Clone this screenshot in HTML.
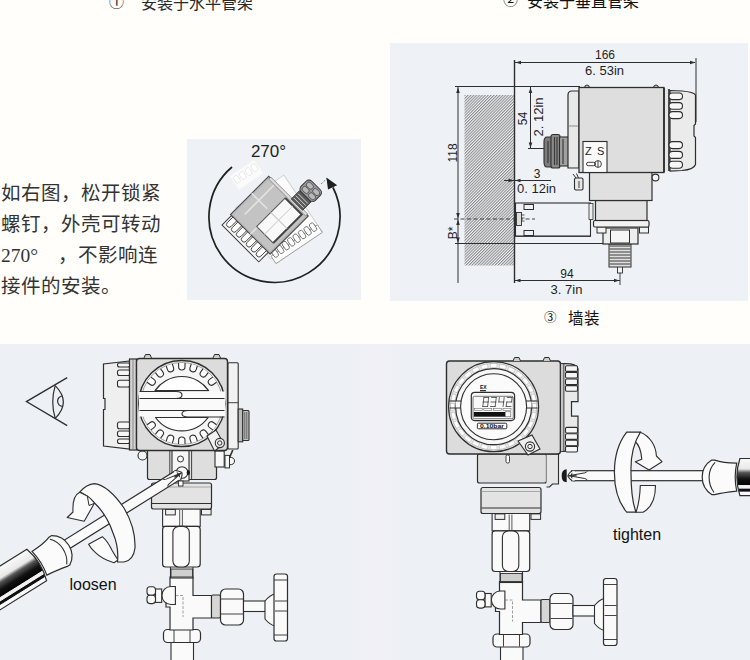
<!DOCTYPE html>
<html lang="zh-CN"><head><meta charset="utf-8">
<style>
html,body{margin:0;padding:0;}
body{width:750px;height:660px;overflow:hidden;background:#fffefb;position:relative;font-family:"Liberation Sans",sans-serif;}
svg{position:absolute;left:0;top:0;}
.t{position:absolute;white-space:nowrap;color:#1a1a1a;}
</style></head><body>
<svg width="750" height="660" viewBox="0 0 750 660">
<defs>
<pattern id="hatch" patternUnits="userSpaceOnUse" width="2.05" height="2.05" patternTransform="rotate(45)">
<rect width="2.05" height="2.05" fill="#eef2f6"/>
<rect x="0" y="0" width="1" height="2.05" fill="#8a8a8a"/>
</pattern>
<linearGradient id="grip" x1="0" y1="0" x2="0" y2="1">
<stop offset="0" stop-color="#fafafa"/><stop offset="0.28" stop-color="#e8e8e8"/><stop offset="0.38" stop-color="#555"/><stop offset="0.55" stop-color="#111"/><stop offset="0.7" stop-color="#050505"/><stop offset="0.72" stop-color="#eee"/><stop offset="0.8" stop-color="#eee"/><stop offset="0.82" stop-color="#111"/><stop offset="0.88" stop-color="#111"/><stop offset="0.9" stop-color="#fafafa"/><stop offset="1" stop-color="#fafafa"/>
</linearGradient>
<linearGradient id="grip2" x1="0" y1="0" x2="0" y2="1">
<stop offset="0" stop-color="#fafafa"/><stop offset="0.3" stop-color="#eee"/><stop offset="0.4" stop-color="#444"/><stop offset="0.7" stop-color="#0a0a0a"/><stop offset="0.72" stop-color="#eee"/><stop offset="0.8" stop-color="#eee"/><stop offset="0.82" stop-color="#111"/><stop offset="0.88" stop-color="#111"/><stop offset="0.9" stop-color="#fafafa"/><stop offset="1" stop-color="#fafafa"/>
</linearGradient>

</defs>
<rect x="390" y="43" width="358" height="258" fill="#eef2f6"/>
<rect x="464.5" y="95" width="50" height="170.5" fill="url(#hatch)"/>
<line x1="514.5" y1="60" x2="514.5" y2="283" stroke="#2e2e2e" stroke-width="1.4"/>
<line x1="515" y1="62.5" x2="695" y2="62.5" stroke="#2e2e2e" stroke-width="1.1"/>
<path d="M515.5 62.5 l5.5 -1.8 v3.6z M695.5 62.5 l-5.5 -1.8 v3.6z" fill="#2e2e2e"/>
<line x1="696" y1="58" x2="696" y2="122" stroke="#2e2e2e" stroke-width="1"/>
<line x1="455" y1="86.5" x2="580" y2="86.5" stroke="#2e2e2e" stroke-width="1.2"/>
<line x1="458" y1="87" x2="458" y2="283" stroke="#2e2e2e" stroke-width="1"/>
<path d="M458 87.5 l-1.8 5.5 h3.6z M458 218.5 l-1.8 -5.5 h3.6z M458 219.5 l-1.8 5.5 h3.6z M458 243 l-1.8 -5.5 h3.6z" fill="#2e2e2e"/>
<line x1="530.5" y1="87" x2="530.5" y2="148.5" stroke="#2e2e2e" stroke-width="1"/>
<line x1="528" y1="148.5" x2="546" y2="148.5" stroke="#2e2e2e" stroke-width="1"/>
<path d="M530.5 87.5 l-1.8 5.5 h3.6z M530.5 148 l-1.8 -5.5 h3.6z" fill="#2e2e2e"/>
<line x1="504" y1="180.5" x2="551" y2="180.5" stroke="#2e2e2e" stroke-width="1.1"/>
<path d="M514 180.5 l-5.5 -1.8 v3.6z M515 180.5 l5.5 -1.8 v3.6z" fill="#2e2e2e"/>
<line x1="454" y1="219" x2="535" y2="219" stroke="#2e2e2e" stroke-width="0.9" stroke-dasharray="4 2.5"/>
<line x1="455" y1="243.5" x2="606" y2="243.5" stroke="#2e2e2e" stroke-width="1.1"/>
<rect x="515.5" y="203" width="75" height="33" fill="none" stroke="#2e2e2e" stroke-width="1.1"/>
<line x1="515" y1="236.5" x2="591" y2="236.5" stroke="#2e2e2e" stroke-width="0.8"/>
<rect x="524" y="204.5" width="9.5" height="5" fill="none" stroke="#2e2e2e" stroke-width="1"/>
<rect x="524" y="230.5" width="9.5" height="5" fill="none" stroke="#2e2e2e" stroke-width="1"/>
<rect x="516.5" y="212.5" width="5" height="13" fill="#ddd" stroke="#2e2e2e" stroke-width="0.9"/>
<path d="M521.5 215 h3 M521.5 218 h3 M521.5 221 h3" stroke="#2e2e2e" stroke-width="0.8"/>
<rect x="589" y="203.5" width="4" height="16" fill="#eee" stroke="#2e2e2e" stroke-width="0.8"/>
<line x1="514.5" y1="280.5" x2="620" y2="280.5" stroke="#2e2e2e" stroke-width="1.1"/>
<path d="M515 280.5 l5.5 -1.8 v3.6z M619.5 280.5 l-5.5 -1.8 v3.6z" fill="#2e2e2e"/>
<line x1="620" y1="271" x2="620" y2="285" stroke="#2e2e2e" stroke-width="0.9"/>
<rect x="617.5" y="266" width="5" height="7" fill="#f4f4f4" stroke="#2e2e2e" stroke-width="0.9"/>
<rect x="609" y="244" width="22" height="23" fill="#e0e0e0" stroke="#2e2e2e" stroke-width="1"/>
<line x1="609.5" y1="246" x2="630.5" y2="246" stroke="#4a4a4a" stroke-width="1.1"/>
<line x1="609.5" y1="249" x2="630.5" y2="249" stroke="#4a4a4a" stroke-width="1.1"/>
<line x1="609.5" y1="252" x2="630.5" y2="252" stroke="#4a4a4a" stroke-width="1.1"/>
<line x1="609.5" y1="255" x2="630.5" y2="255" stroke="#4a4a4a" stroke-width="1.1"/>
<line x1="609.5" y1="258" x2="630.5" y2="258" stroke="#4a4a4a" stroke-width="1.1"/>
<line x1="609.5" y1="261" x2="630.5" y2="261" stroke="#4a4a4a" stroke-width="1.1"/>
<line x1="609.5" y1="264" x2="630.5" y2="264" stroke="#4a4a4a" stroke-width="1.1"/>
<rect x="603" y="228" width="35" height="16" fill="#eee" stroke="#2e2e2e" stroke-width="1.2"/>
<rect x="610.5" y="230" width="19" height="13" fill="#f6f6f6" stroke="#2e2e2e" stroke-width="1"/>
<rect x="597" y="227" width="9" height="6" fill="#f2f2f2" stroke="#2e2e2e" stroke-width="1"/>
<rect x="639.5" y="227" width="9" height="6" fill="#f2f2f2" stroke="#2e2e2e" stroke-width="1"/>
<rect x="593.5" y="220.5" width="55.5" height="6.5" rx="1.5" fill="#f2f2f2" stroke="#2e2e2e" stroke-width="1.2"/>
<rect x="595.5" y="200.5" width="51.5" height="20" fill="#e2e2e2" stroke="#2e2e2e" stroke-width="1.2"/>
<rect x="589.5" y="172" width="62.5" height="28.5" fill="#e0e0e0" stroke="#2e2e2e" stroke-width="1.2"/>
<circle cx="655.5" cy="177.5" r="3.4" fill="#f4f4f4" stroke="#2e2e2e" stroke-width="1.1"/>
<rect x="574.5" y="178" width="8.5" height="12" rx="1.5" fill="#e8e8e8" stroke="#2e2e2e" stroke-width="1.1"/>
<path d="M576 178 l-3 -4 M578.5 178 l-2 -4.5" stroke="#2e2e2e" stroke-width="1"/>
<line x1="579" y1="181" x2="579" y2="188" stroke="#2e2e2e" stroke-width="0.9"/>
<path d="M547 137 q-3 0 -3 5 v20 q0 5 3 5 h5 v-30z" fill="#7d7d7d" stroke="#2e2e2e" stroke-width="1.1"/>
<rect x="551" y="134.5" width="9" height="33.5" rx="2" fill="#8a8a8a" stroke="#2e2e2e" stroke-width="1.1"/>
<rect x="559.5" y="137" width="9" height="29" fill="#a0a0a0" stroke="#2e2e2e" stroke-width="1.1"/>
<path d="M548 141 v22 M554.5 137 v28 M557 137 v28 M563 139 v25" stroke="#3c3c3c" stroke-width="1.2"/>
<path d="M579 91 h-7 q-4 0 -4 4 v73 h11z" fill="#e8e8e8" stroke="#2e2e2e" stroke-width="1.2"/>
<line x1="568.5" y1="126" x2="579" y2="126" stroke="#777" stroke-width="0.8"/>
<path d="M584.5 88 q0 -3 2.5 -3 q2.5 0 2.5 3z M653.5 88 q0 -3 2.5 -3 q2.5 0 2.5 3z" fill="#ccc" stroke="#2e2e2e" stroke-width="1"/>
<rect x="579" y="87.5" width="85" height="85" fill="#dedede" stroke="#2e2e2e" stroke-width="1.3"/>
<rect x="583" y="141.5" width="24" height="31" fill="#fafafa" stroke="#2e2e2e" stroke-width="1.1"/>
<text x="585" y="155.3" font-size="11" font-family="Liberation Sans" fill="#1e1e1e">Z</text>
<text x="597" y="155.3" font-size="11" font-family="Liberation Sans" fill="#1e1e1e">S</text>
<rect x="586.5" y="162.3" width="9" height="3.4" rx="1.7" fill="none" stroke="#2e2e2e" stroke-width="0.9"/>
<circle cx="598" cy="164" r="3.4" fill="none" stroke="#2e2e2e" stroke-width="0.9"/>
<line x1="598" y1="160.8" x2="598" y2="167.2" stroke="#2e2e2e" stroke-width="0.9"/>
<path d="M664 88 v84 M669 89 v82" stroke="#2a2a2a" stroke-width="1.6"/>
<rect x="665" y="88.5" width="3" height="83" fill="#e6e6e6"/>
<path d="M670 90.5 L682 91 q12 1 13.5 4 v29 l-1.5 1.5 v10.5 l1.5 1.5 v27 q-1.5 5 -13.5 6 L670 171z" fill="#ebebeb" stroke="#2e2e2e" stroke-width="1.2"/>
<rect x="669" y="93" width="13.5" height="6.6" rx="3.3" fill="#f8f8f8" stroke="#2e2e2e" stroke-width="1.1"/>
<rect x="669" y="102.6" width="13.5" height="6.6" rx="3.3" fill="#f8f8f8" stroke="#2e2e2e" stroke-width="1.1"/>
<rect x="669" y="111.6" width="13.5" height="7" rx="3.5" fill="#f8f8f8" stroke="#2e2e2e" stroke-width="1.1"/>
<rect x="669" y="141.6" width="13.5" height="7" rx="3.5" fill="#f8f8f8" stroke="#2e2e2e" stroke-width="1.1"/>
<rect x="669" y="151.4" width="13.5" height="7" rx="3.5" fill="#f8f8f8" stroke="#2e2e2e" stroke-width="1.1"/>
<rect x="669" y="161.2" width="13.5" height="7" rx="3.5" fill="#f8f8f8" stroke="#2e2e2e" stroke-width="1.1"/>
<text x="605" y="58.8" font-size="12" text-anchor="middle" font-family="Liberation Sans" fill="#1e1e1e">166</text>
<text x="604.5" y="74.8" font-size="13" text-anchor="middle" font-family="Liberation Sans" fill="#1e1e1e">6. 53in</text>
<text x="537" y="177.6" font-size="12" text-anchor="middle" font-family="Liberation Sans" fill="#1e1e1e">3</text>
<text x="536.5" y="193.2" font-size="13" text-anchor="middle" font-family="Liberation Sans" fill="#1e1e1e">0. 12in</text>
<text x="567" y="277.6" font-size="12" text-anchor="middle" font-family="Liberation Sans" fill="#1e1e1e">94</text>
<text x="566.5" y="294.4" font-size="13" text-anchor="middle" font-family="Liberation Sans" fill="#1e1e1e">3. 7in</text>
<text transform="translate(527.3 118.5) rotate(-90)" font-size="12" text-anchor="middle" font-family="Liberation Sans" fill="#1e1e1e">54</text>
<text transform="translate(542.6 117) rotate(-90)" font-size="13" text-anchor="middle" font-family="Liberation Sans" fill="#1e1e1e">2. 12in</text>
<text transform="translate(456.8 153) rotate(-90)" font-size="12" text-anchor="middle" font-family="Liberation Sans" fill="#1e1e1e">118</text>
<text transform="translate(456.8 233) rotate(-90)" font-size="12" text-anchor="middle" font-family="Liberation Sans" fill="#1e1e1e">B*</text>
<rect x="187" y="139" width="174" height="161" fill="#eef2f6"/>
<text x="268.5" y="157.3" font-size="17" text-anchor="middle" font-family="Liberation Sans" fill="#1e1e1e">270°</text>
<g transform="translate(276 260) rotate(-34)">
<rect x="-4" y="-66" width="58" height="62" fill="#fcfcfc" stroke="#d0d0d0" stroke-width="1"/>
<rect x="-2" y="-6" width="56" height="9" fill="#fff" stroke="#9a9a9a" stroke-width="0.9"/>
<rect x="0.5" y="-11" width="4.8" height="9" rx="2.2" fill="#fff" stroke="#707070" stroke-width="0.9"/>
<rect x="7.1" y="-11" width="4.8" height="9" rx="2.2" fill="#fff" stroke="#707070" stroke-width="0.9"/>
<rect x="13.7" y="-11" width="4.8" height="9" rx="2.2" fill="#fff" stroke="#707070" stroke-width="0.9"/>
<rect x="20.299999999999997" y="-11" width="4.8" height="9" rx="2.2" fill="#fff" stroke="#707070" stroke-width="0.9"/>
<rect x="26.9" y="-11" width="4.8" height="9" rx="2.2" fill="#fff" stroke="#707070" stroke-width="0.9"/>
<rect x="33.5" y="-11" width="4.8" height="9" rx="2.2" fill="#fff" stroke="#707070" stroke-width="0.9"/>
<rect x="40.099999999999994" y="-11" width="4.8" height="9" rx="2.2" fill="#fff" stroke="#707070" stroke-width="0.9"/>
<rect x="46.699999999999996" y="-11" width="4.8" height="9" rx="2.2" fill="#fff" stroke="#707070" stroke-width="0.9"/>
</g>
<g transform="translate(236 186) rotate(-34)">
<rect x="0" y="-12" width="30" height="17" fill="#fbfbfb" stroke="#f2f2f2" stroke-width="1"/>
<rect x="2" y="-9" width="5" height="8" rx="2.3" fill="#fff" stroke="#e6e6e6" stroke-width="0.9"/>
<rect x="9" y="-9" width="5" height="8" rx="2.3" fill="#fff" stroke="#e6e6e6" stroke-width="0.9"/>
<rect x="16" y="-9" width="5" height="8" rx="2.3" fill="#fff" stroke="#e6e6e6" stroke-width="0.9"/>
<rect x="23" y="-9" width="5" height="8" rx="2.3" fill="#fff" stroke="#e6e6e6" stroke-width="0.9"/>
</g>
<g transform="translate(230.5 214.5) rotate(-45)">
<rect x="-13.5" y="1.5" width="13.5" height="52" fill="#f7f7f7" stroke="#3a3a3a" stroke-width="1"/>
<path d="M0 3.5 h-8 a2.7 2.7 0 0 0 0 5.4 h8" fill="#fff" stroke="#3a3a3a" stroke-width="0.9"/>
<path d="M0 10.5 h-8 a2.7 2.7 0 0 0 0 5.4 h8" fill="#fff" stroke="#3a3a3a" stroke-width="0.9"/>
<path d="M0 17.5 h-8 a2.7 2.7 0 0 0 0 5.4 h8" fill="#fff" stroke="#3a3a3a" stroke-width="0.9"/>
<path d="M0 24.5 h-8 a2.7 2.7 0 0 0 0 5.4 h8" fill="#fff" stroke="#3a3a3a" stroke-width="0.9"/>
<path d="M0 31.5 h-8 a2.7 2.7 0 0 0 0 5.4 h8" fill="#fff" stroke="#3a3a3a" stroke-width="0.9"/>
<path d="M0 38.5 h-8 a2.7 2.7 0 0 0 0 5.4 h8" fill="#fff" stroke="#3a3a3a" stroke-width="0.9"/>
<path d="M0 45.5 h-8 a2.7 2.7 0 0 0 0 5.4 h8" fill="#fff" stroke="#3a3a3a" stroke-width="0.9"/>
<rect x="0" y="0" width="54" height="56" fill="#b8b8b8" stroke="#4a4a4a" stroke-width="1.1"/>
<rect x="2" y="2" width="50" height="52" fill="#c3c3c3"/>
<path d="M30 0 V22 M0 28 H10 M10 10 H52" stroke="#e4e4e4" stroke-width="1.5" fill="none"/>
<rect x="10" y="27" width="40" height="23" fill="#f9f9f9" stroke="#555" stroke-width="1"/>
<path d="M10 50.5 H50.5 V27" fill="none" stroke="#444" stroke-width="1.8"/>
<line x1="30" y1="27" x2="30" y2="50" stroke="#c8c8c8" stroke-width="1.2"/>
<line x1="10" y1="38" x2="50" y2="38" stroke="#d0d0d0" stroke-width="1"/>
<rect x="52" y="2" width="3" height="52" fill="#ddd" stroke="#666" stroke-width="0.6"/>
<rect x="54" y="32" width="12" height="16" fill="#5a5a5a" stroke="#333" stroke-width="0.9"/>
<path d="M56.5 33 v14 M59.5 33 v14 M62.5 33 v14" stroke="#d8d8d8" stroke-width="0.9"/>
<rect x="66" y="30" width="15" height="20" rx="4" fill="#9c9c9c" stroke="#333" stroke-width="1"/>
<rect x="68" y="32" width="5" height="7.5" rx="2" fill="#b8b8b8" stroke="#444" stroke-width="0.8"/>
<rect x="74" y="32" width="5" height="7.5" rx="2" fill="#b8b8b8" stroke="#444" stroke-width="0.8"/>
<rect x="68" y="41" width="5" height="7.5" rx="2" fill="#b8b8b8" stroke="#444" stroke-width="0.8"/>
<rect x="74" y="41" width="5" height="7.5" rx="2" fill="#b8b8b8" stroke="#444" stroke-width="0.8"/>
</g>
<line x1="321" y1="184" x2="327" y2="178.5" stroke="#666" stroke-width="0.8" stroke-dasharray="2 1.5"/>
<path d="M232 167 A 65.5 65.5 0 1 0 333 187.5" fill="none" stroke="#1f1f1f" stroke-width="1.7"/>
<path d="M326.4 177.6 L328 189.5 L337.2 185.3 Z" fill="#1f1f1f"/>
<rect x="0" y="344" width="750" height="316" fill="#edf1f5"/>
<rect x="360" y="344" width="32" height="316" fill="#f1f0f6"/>
<g transform="translate(0 0)">
<rect x="171" y="641" width="22.5" height="25" fill="#fafafa" stroke="#2e2e2e" stroke-width="1.1"/>
<rect x="163.5" y="629.5" width="37" height="13" rx="4" fill="#fafafa" stroke="#2e2e2e" stroke-width="1.2"/>
<path d="M174 630 v12 M190 630 v12" stroke="#2e2e2e" stroke-width="0.9"/>
<path d="M170 577 h23 v18.5 h18.5 v22.5 h-18.5 v12 h-23 v-23 h-4 v-14 h4z" fill="#fafafa" stroke="#2e2e2e" stroke-width="1.2"/>
<path d="M171 595.5 h12 M183 597 v20" stroke="#888" stroke-width="0.8" stroke-dasharray="3 1.5"/>
<path d="M175.4 586.5 h-4.5 a9 9 0 0 0 0 18 h4.5z" fill="#fafafa" stroke="#2e2e2e" stroke-width="1.1"/>
<rect x="155.5" y="589" width="6.2" height="13.4" fill="#fafafa" stroke="#2e2e2e" stroke-width="1.1"/>
<rect x="147" y="586.8" width="8.5" height="8.4" rx="3" fill="#fafafa" stroke="#2e2e2e" stroke-width="1.1"/>
<rect x="147" y="595.2" width="8.5" height="8.4" rx="3" fill="#fafafa" stroke="#2e2e2e" stroke-width="1.1"/>
<rect x="170.5" y="565" width="22.5" height="13" fill="#fafafa" stroke="#2e2e2e" stroke-width="1.1"/>
<rect x="171" y="569" width="21.5" height="8" fill="#cfcfcf" stroke="#2e2e2e" stroke-width="0.9"/>
<rect x="211.5" y="595" width="9" height="23" rx="1.5" fill="#d6d6d6" stroke="#2e2e2e" stroke-width="1.1"/>
<rect x="220.5" y="589" width="23" height="36" rx="5" fill="#fafafa" stroke="#2e2e2e" stroke-width="1.2"/>
<path d="M221 599 h22 M221 614 h22" stroke="#2e2e2e" stroke-width="0.9"/>
<rect x="243.5" y="601" width="22" height="10.5" fill="#fafafa" stroke="#2e2e2e" stroke-width="1.1"/>
<path d="M265 601 q5 -6 10 -7 v32 q-5 -1 -10 -7z" fill="#fafafa" stroke="#2e2e2e" stroke-width="1.1"/>
<rect x="274" y="574" width="13.5" height="67" rx="2.5" fill="#fafafa" stroke="#2e2e2e" stroke-width="1.2"/>
<path d="M274 580 h13.5 M274 635 h13.5 M275 601 h12 M275 611 h12" stroke="#2e2e2e" stroke-width="0.9"/>
</g>
<g transform="translate(0 0)">
<rect x="162.6" y="508.8" width="37.6" height="17.6" fill="#fafafa" stroke="#2e2e2e" stroke-width="1.1"/>
<path d="M179.7 510 v16 M182.4 510 v16" stroke="#2e2e2e" stroke-width="0.8"/>
<rect x="165.6" y="509.4" width="9.7" height="5.5" fill="#f0f0f0" stroke="#2e2e2e" stroke-width="1"/>
<rect x="201.5" y="509.4" width="9.6" height="5.5" fill="#f0f0f0" stroke="#2e2e2e" stroke-width="1"/>
<rect x="162.6" y="526.4" width="37.6" height="40.6" rx="3" fill="#fafafa" stroke="#2e2e2e" stroke-width="1.2"/>
<rect x="172.9" y="526.4" width="16.4" height="40.6" rx="6" fill="#fafafa" stroke="#2e2e2e" stroke-width="1.1"/>
<rect x="151.5" y="483" width="60" height="26" rx="2" fill="#e3e3e3" stroke="#2e2e2e" stroke-width="1.2"/>
<line x1="152" y1="503.5" x2="211" y2="503.5" stroke="#2e2e2e" stroke-width="1"/>
<line x1="152" y1="487" x2="211" y2="487" stroke="#999" stroke-width="0.8"/>
</g>
<rect x="147.5" y="448" width="69" height="31.5" rx="2" fill="#dedede" stroke="#2e2e2e" stroke-width="1.2"/>
<path d="M169.8 449 V479 M191.6 449 V479" stroke="#2e2e2e" stroke-width="0.9"/>
<rect x="172" y="450" width="17" height="31" fill="#f6f6f6" stroke="#2e2e2e" stroke-width="1.1"/>
<circle cx="180.5" cy="459" r="3" fill="#fff" stroke="#2e2e2e" stroke-width="1"/>
<rect x="178.5" y="481" width="4.5" height="5" fill="#fff" stroke="#2e2e2e" stroke-width="0.9"/>
<circle cx="142.5" cy="455.5" r="4.5" fill="#f4f4f4" stroke="#2e2e2e" stroke-width="1.1"/>
<rect x="215" y="451" width="9.2" height="16" fill="#f8f8f8" stroke="#2e2e2e" stroke-width="1.1"/>
<path d="M229.5 457.3 q5 0 5 3.7 q0 3.8 -5 3.8z" fill="#f8f8f8" stroke="#2e2e2e" stroke-width="1"/>
<rect x="225" y="455.4" width="4.5" height="12.5" fill="#f8f8f8" stroke="#2e2e2e" stroke-width="1"/>
<path d="M229.8 457 l3 -7" fill="none" stroke="#2e2e2e" stroke-width="1.6"/>
<path d="M129.5 361 L103.5 364 V398.5 h1.5 v11 h-1.5 V446 L129.5 449z" fill="#efefef" stroke="#2e2e2e" stroke-width="1.2"/>
<rect x="117.5" y="363" width="12.5" height="4" rx="2" fill="#f6f6f6" stroke="#2e2e2e" stroke-width="1.1"/>
<rect x="117.5" y="370" width="12.5" height="5.5" rx="2" fill="#f6f6f6" stroke="#2e2e2e" stroke-width="1.1"/>
<rect x="117.5" y="380.3" width="12.5" height="6.7" rx="2" fill="#f6f6f6" stroke="#2e2e2e" stroke-width="1.1"/>
<rect x="117.5" y="422" width="12.5" height="6.8" rx="2" fill="#f6f6f6" stroke="#2e2e2e" stroke-width="1.1"/>
<rect x="117.5" y="431" width="12.5" height="5.5" rx="2" fill="#f6f6f6" stroke="#2e2e2e" stroke-width="1.1"/>
<rect x="117.5" y="439" width="12.5" height="4.5" rx="2" fill="#f6f6f6" stroke="#2e2e2e" stroke-width="1.1"/>
<rect x="129.5" y="359" width="7" height="91" fill="#d3d3d3" stroke="#2e2e2e" stroke-width="1.2"/>
<line x1="133" y1="360" x2="133" y2="449" stroke="#777" stroke-width="0.8"/>
<rect x="136.5" y="358.5" width="91" height="92" rx="3" fill="#dcdcdc" stroke="#2e2e2e" stroke-width="1.4"/>
<path d="M144 358 l1.5 -3.5 h4.5 l1.5 3.5 M213 358 l1.5 -3.5 h4.5 l1.5 3.5" fill="#ccc" stroke="#2e2e2e" stroke-width="1"/>
<rect x="228" y="362.7" width="10.2" height="86.3" rx="1" fill="#f2f2f2" stroke="#2e2e2e" stroke-width="1.1"/>
<line x1="228" y1="402.7" x2="238.2" y2="402.7" stroke="#2e2e2e" stroke-width="0.9"/>
<rect x="238.2" y="409" width="4.5" height="32.8" fill="#bdbdbd" stroke="#2e2e2e" stroke-width="1.1"/>
<rect x="242.7" y="410.5" width="6.3" height="30" rx="1" fill="#c4c4c4" stroke="#2e2e2e" stroke-width="1.1"/>
<path d="M244.8 412 v27 M246.8 412 v27" stroke="#555" stroke-width="0.9"/>
<circle cx="181.8" cy="403.5" r="43" fill="#f6f6f6" stroke="#2e2e2e" stroke-width="1.4"/>
<circle cx="181.8" cy="403.5" r="41" fill="none" stroke="#888" stroke-width="0.8"/>
<path d="M-3.2 0 v3.8 a3.2 3.2 0 0 0 6.4 0 v-3.8" transform="translate(181.8 363.0) rotate(0.0)" fill="#fff" stroke="#2e2e2e" stroke-width="1.1"/>
<path d="M-3.2 0 v3.8 a3.2 3.2 0 0 0 6.4 0 v-3.8" transform="translate(194.3 365.0) rotate(18.0)" fill="#fff" stroke="#2e2e2e" stroke-width="1.1"/>
<path d="M-3.2 0 v3.8 a3.2 3.2 0 0 0 6.4 0 v-3.8" transform="translate(205.6 370.7) rotate(36.0)" fill="#fff" stroke="#2e2e2e" stroke-width="1.1"/>
<path d="M-3.2 0 v3.8 a3.2 3.2 0 0 0 6.4 0 v-3.8" transform="translate(214.6 379.7) rotate(54.0)" fill="#fff" stroke="#2e2e2e" stroke-width="1.1"/>
<path d="M-3.2 0 v3.8 a3.2 3.2 0 0 0 6.4 0 v-3.8" transform="translate(214.6 427.3) rotate(126.0)" fill="#fff" stroke="#2e2e2e" stroke-width="1.1"/>
<path d="M-3.2 0 v3.8 a3.2 3.2 0 0 0 6.4 0 v-3.8" transform="translate(205.6 436.3) rotate(144.0)" fill="#fff" stroke="#2e2e2e" stroke-width="1.1"/>
<path d="M-3.2 0 v3.8 a3.2 3.2 0 0 0 6.4 0 v-3.8" transform="translate(194.3 442.0) rotate(162.0)" fill="#fff" stroke="#2e2e2e" stroke-width="1.1"/>
<path d="M-3.2 0 v3.8 a3.2 3.2 0 0 0 6.4 0 v-3.8" transform="translate(181.8 444.0) rotate(180.0)" fill="#fff" stroke="#2e2e2e" stroke-width="1.1"/>
<path d="M-3.2 0 v3.8 a3.2 3.2 0 0 0 6.4 0 v-3.8" transform="translate(169.3 442.0) rotate(198.0)" fill="#fff" stroke="#2e2e2e" stroke-width="1.1"/>
<path d="M-3.2 0 v3.8 a3.2 3.2 0 0 0 6.4 0 v-3.8" transform="translate(158.0 436.3) rotate(216.0)" fill="#fff" stroke="#2e2e2e" stroke-width="1.1"/>
<path d="M-3.2 0 v3.8 a3.2 3.2 0 0 0 6.4 0 v-3.8" transform="translate(149.0 427.3) rotate(234.0)" fill="#fff" stroke="#2e2e2e" stroke-width="1.1"/>
<path d="M-3.2 0 v3.8 a3.2 3.2 0 0 0 6.4 0 v-3.8" transform="translate(149.0 379.7) rotate(306.0)" fill="#fff" stroke="#2e2e2e" stroke-width="1.1"/>
<path d="M-3.2 0 v3.8 a3.2 3.2 0 0 0 6.4 0 v-3.8" transform="translate(158.0 370.7) rotate(324.0)" fill="#fff" stroke="#2e2e2e" stroke-width="1.1"/>
<path d="M-3.2 0 v3.8 a3.2 3.2 0 0 0 6.4 0 v-3.8" transform="translate(169.3 365.0) rotate(342.0)" fill="#fff" stroke="#2e2e2e" stroke-width="1.1"/>
<path d="M155.0 390.6 A 32.5 32.5 0 0 1 208.6 390.6 Z" fill="#fff" stroke="#2e2e2e" stroke-width="1.2" stroke-linejoin="round"/>
<path d="M155.5 417.5 A 32.5 32.5 0 0 0 208.1 417.5 Z" fill="#fff" stroke="#2e2e2e" stroke-width="1.2" stroke-linejoin="round"/>
<rect x="139" y="391.5" width="86" height="25" fill="#fafafa"/>
<path d="M139.5 398.5 H224.5 M139.5 410.5 H224.5" stroke="#2e2e2e" stroke-width="1.2"/>
<path d="M139.5 391.5 H176 q6 0 6 3.5 q0 3.5 -6 3.5 M224.5 417 H188 q-6 0 -6 -3.2 q0 -3.3 6 -3.3" fill="none" stroke="#2e2e2e" stroke-width="1.1"/>
<path d="M207 436 L214.5 451 L224 444 L216 430z" fill="#f2f2f2" stroke="#2e2e2e" stroke-width="1.1"/>
<circle cx="219.8" cy="443" r="4.6" fill="#f2f2f2" stroke="#2e2e2e" stroke-width="1.1"/>
<circle cx="219.8" cy="443" r="2.2" fill="none" stroke="#2e2e2e" stroke-width="1"/>
<path d="M67.2 377.6 L26.4 401.6 L67.2 425.6" fill="none" stroke="#2e2e2e" stroke-width="1.3" stroke-linejoin="miter"/>
<path d="M55.2 385.6 Q50.3 402 55.2 418.4" fill="none" stroke="#2e2e2e" stroke-width="1.2"/>
<path d="M55.2 385.6 Q71.5 402 55.2 418.4" fill="none" stroke="#2e2e2e" stroke-width="1.2"/>
<path d="M62.6 396 A5 5.2 0 0 0 62.6 406.4" fill="none" stroke="#2e2e2e" stroke-width="1.2"/>
<circle cx="182" cy="472.5" r="5.8" fill="#fafafa" stroke="#2e2e2e" stroke-width="1.1"/>
<ellipse cx="188.3" cy="472.5" rx="1.6" ry="2.6" fill="#111"/>
<g transform="matrix(-0.848 0.530 0.530 0.848 182 472.5)">
<rect x="4" y="-5" width="134" height="10" fill="#fbfbfb" stroke="#2e2e2e" stroke-width="1.2"/>
<path d="M0 0 Q2.5 -4.6 5.5 -5 H8 M0 0 Q2.5 4.6 5.5 5 H8" fill="#fbfbfb" stroke="#2e2e2e" stroke-width="1.1"/>
<path d="M4.5 -4.4 H7 M4.5 4.4 H7" stroke="#fbfbfb" stroke-width="1"/>
<path d="M1 0 L17 -2.8 Q19 -3.2 19.5 -4.4 M1 0 L17 2.8 Q19 3.2 19.5 4.4 M0.5 0 H9" fill="none" stroke="#2e2e2e" stroke-width="1"/>
<path d="M144 -15.6 q-9.5 6 -9.5 17 q0 11.5 9.5 17.5 h3 q8 -2 22 -3.5 q-3 -14 0 -28 q-14 0 -22 -3z" fill="#fbfbfb" stroke="#2e2e2e" stroke-width="1.2"/>
<path d="M147.4 -13.4 q-6 6 -6 15 q0 9 5 15.2" fill="none" stroke="#2e2e2e" stroke-width="1.1"/>
<path d="M172.2 -17.2 H260 V20 H172.2 q-6 -18.6 0 -37.2z" fill="url(#grip)" stroke="#2e2e2e" stroke-width="1.2"/>
<line x1="176" y1="11.3" x2="260" y2="11.3" stroke="#fff" stroke-width="0.9" stroke-dasharray="1.4 1.4"/>
</g>
<path d="M88.6 544.2 L102.3 536.7 C105 539 109 544 112 550.3 C114 554 116 557 118 560 L114 562.7 C108 561 100 557 95.5 552.6 C92 549.5 90 547 88.6 544.2 Z" fill="#fbfbfb" stroke="#2e2e2e" stroke-width="1.1" stroke-linejoin="round"/>
<path d="M79.7 492.1 C84 487 89 484 94.6 483.6 C105 485 115 495 124 508 C131 520 135.5 535 135 548 C134 556 130 561 124 562 L117.5 562 C118.5 552 116 540 113 533 C109 521 103 511 94.5 503 C90 498.5 85 494 79.7 492.1 Z" fill="#fbfbfb" stroke="#2e2e2e" stroke-width="1.2" stroke-linejoin="round"/>
<path d="M79.7 492.3 C74 495 72.5 503 73 512 L67.2 517.5 L84.2 521.3 L94.5 503 C92 500 89.5 497.5 87.3 495.9 Z" fill="#fbfbfb" stroke="#2e2e2e" stroke-width="1.1" stroke-linejoin="round"/>
<path d="M87.3 495.9 L89 505.5 L94 503.5" fill="none" stroke="#2e2e2e" stroke-width="1"/>
<text x="69.5" y="590" font-size="16" font-family="Liberation Sans" fill="#111">loosen</text>
<g transform="translate(329.5 4.5)">
<rect x="171" y="641" width="22.5" height="25" fill="#fafafa" stroke="#2e2e2e" stroke-width="1.1"/>
<rect x="163.5" y="629.5" width="37" height="13" rx="4" fill="#fafafa" stroke="#2e2e2e" stroke-width="1.2"/>
<path d="M174 630 v12 M190 630 v12" stroke="#2e2e2e" stroke-width="0.9"/>
<path d="M170 577 h23 v18.5 h18.5 v22.5 h-18.5 v12 h-23 v-23 h-4 v-14 h4z" fill="#fafafa" stroke="#2e2e2e" stroke-width="1.2"/>
<path d="M171 595.5 h12 M183 597 v20" stroke="#888" stroke-width="0.8" stroke-dasharray="3 1.5"/>
<path d="M175.4 586.5 h-4.5 a9 9 0 0 0 0 18 h4.5z" fill="#fafafa" stroke="#2e2e2e" stroke-width="1.1"/>
<rect x="155.5" y="589" width="6.2" height="13.4" fill="#fafafa" stroke="#2e2e2e" stroke-width="1.1"/>
<rect x="147" y="586.8" width="8.5" height="8.4" rx="3" fill="#fafafa" stroke="#2e2e2e" stroke-width="1.1"/>
<rect x="147" y="595.2" width="8.5" height="8.4" rx="3" fill="#fafafa" stroke="#2e2e2e" stroke-width="1.1"/>
<rect x="170.5" y="565" width="22.5" height="13" fill="#fafafa" stroke="#2e2e2e" stroke-width="1.1"/>
<rect x="171" y="569" width="21.5" height="8" fill="#cfcfcf" stroke="#2e2e2e" stroke-width="0.9"/>
<rect x="211.5" y="595" width="9" height="23" rx="1.5" fill="#d6d6d6" stroke="#2e2e2e" stroke-width="1.1"/>
<rect x="220.5" y="589" width="23" height="36" rx="5" fill="#fafafa" stroke="#2e2e2e" stroke-width="1.2"/>
<path d="M221 599 h22 M221 614 h22" stroke="#2e2e2e" stroke-width="0.9"/>
<rect x="243.5" y="601" width="22" height="10.5" fill="#fafafa" stroke="#2e2e2e" stroke-width="1.1"/>
<path d="M265 601 q5 -6 10 -7 v32 q-5 -1 -10 -7z" fill="#fafafa" stroke="#2e2e2e" stroke-width="1.1"/>
<rect x="274" y="574" width="13.5" height="67" rx="2.5" fill="#fafafa" stroke="#2e2e2e" stroke-width="1.2"/>
<path d="M274 580 h13.5 M274 635 h13.5 M275 601 h12 M275 611 h12" stroke="#2e2e2e" stroke-width="0.9"/>
</g>
<g transform="translate(329.5 4.5)">
<rect x="162.6" y="508.8" width="37.6" height="17.6" fill="#fafafa" stroke="#2e2e2e" stroke-width="1.1"/>
<path d="M179.7 510 v16 M182.4 510 v16" stroke="#2e2e2e" stroke-width="0.8"/>
<rect x="165.6" y="509.4" width="9.7" height="5.5" fill="#f0f0f0" stroke="#2e2e2e" stroke-width="1"/>
<rect x="201.5" y="509.4" width="9.6" height="5.5" fill="#f0f0f0" stroke="#2e2e2e" stroke-width="1"/>
<rect x="162.6" y="526.4" width="37.6" height="40.6" rx="3" fill="#fafafa" stroke="#2e2e2e" stroke-width="1.2"/>
<rect x="172.9" y="526.4" width="16.4" height="40.6" rx="6" fill="#fafafa" stroke="#2e2e2e" stroke-width="1.1"/>
<rect x="151.5" y="483" width="60" height="26" rx="2" fill="#e3e3e3" stroke="#2e2e2e" stroke-width="1.2"/>
<line x1="152" y1="503.5" x2="211" y2="503.5" stroke="#2e2e2e" stroke-width="1"/>
<line x1="152" y1="487" x2="211" y2="487" stroke="#999" stroke-width="0.8"/>
</g>
<rect x="477.5" y="454" width="69" height="29" rx="2" fill="#dedede" stroke="#2e2e2e" stroke-width="1.2"/>
<rect x="506" y="455" width="3.5" height="8" rx="1.5" fill="#fff" stroke="#2e2e2e" stroke-width="0.9"/>
<path d="M546.5 454 h12 v30 h-6 l-3 3 h-3" fill="#e6e6e6" stroke="#2e2e2e" stroke-width="1.1"/>
<rect x="446.5" y="361" width="114" height="93" rx="3" fill="#dcdcdc" stroke="#2e2e2e" stroke-width="1.4"/>
<path d="M513 361 l1.5 -3.5 h4.5 l1.5 3.5 M543 361 l1.5 -3.5 h4.5 l1.5 3.5" fill="#ccc" stroke="#2e2e2e" stroke-width="1"/>
<path d="M560.5 363.6 h5 q11 0 12.5 5 v33 h-6.5 v14.5 h6.5 v30 q-1 5 -12.5 5 h-5z" fill="#e9e9e9" stroke="#2e2e2e" stroke-width="1.2"/>
<rect x="565.5" y="365.8" width="12" height="5.6" rx="1.2" fill="#f6f6f6" stroke="#2e2e2e" stroke-width="1.1"/>
<rect x="565.5" y="372.4" width="12" height="5.6" rx="1.2" fill="#f6f6f6" stroke="#2e2e2e" stroke-width="1.1"/>
<rect x="565.5" y="379" width="12" height="5.6" rx="1.2" fill="#f6f6f6" stroke="#2e2e2e" stroke-width="1.1"/>
<rect x="565.5" y="385.6" width="12" height="5.6" rx="1.2" fill="#f6f6f6" stroke="#2e2e2e" stroke-width="1.1"/>
<rect x="565.5" y="427.4" width="12" height="5.6" rx="1.2" fill="#f6f6f6" stroke="#2e2e2e" stroke-width="1.1"/>
<rect x="565.5" y="433.8" width="12" height="5.6" rx="1.2" fill="#f6f6f6" stroke="#2e2e2e" stroke-width="1.1"/>
<rect x="565.5" y="440.2" width="12" height="5.6" rx="1.2" fill="#f6f6f6" stroke="#2e2e2e" stroke-width="1.1"/>
<rect x="565.5" y="446.4" width="12" height="5.6" rx="1.2" fill="#f6f6f6" stroke="#2e2e2e" stroke-width="1.1"/>
<rect x="560.5" y="363.6" width="3.4" height="88" fill="#c4c4c4" stroke="#2e2e2e" stroke-width="0.9"/>
<circle cx="493.6" cy="406.7" r="45" fill="#ececec" stroke="#2e2e2e" stroke-width="1.2"/>
<circle cx="493.6" cy="406.7" r="43.3" fill="none" stroke="#aaa" stroke-width="0.6"/>
<rect x="-2" y="-3.4" width="4" height="6.8" fill="#fdfdfd" stroke="#aaa" stroke-width="0.5" transform="translate(534.6 406.7) rotate(0.0)"/>
<rect x="-2" y="-3.4" width="4" height="6.8" fill="#fdfdfd" stroke="#aaa" stroke-width="0.5" transform="translate(533.6 415.8) rotate(12.9)"/>
<rect x="-2" y="-3.4" width="4" height="6.8" fill="#fdfdfd" stroke="#aaa" stroke-width="0.5" transform="translate(530.5 424.5) rotate(25.7)"/>
<rect x="-2" y="-3.4" width="4" height="6.8" fill="#fdfdfd" stroke="#aaa" stroke-width="0.5" transform="translate(525.7 432.3) rotate(38.6)"/>
<rect x="-2" y="-3.4" width="4" height="6.8" fill="#fdfdfd" stroke="#aaa" stroke-width="0.5" transform="translate(519.2 438.8) rotate(51.4)"/>
<rect x="-2" y="-3.4" width="4" height="6.8" fill="#fdfdfd" stroke="#aaa" stroke-width="0.5" transform="translate(511.4 443.6) rotate(64.3)"/>
<rect x="-2" y="-3.4" width="4" height="6.8" fill="#fdfdfd" stroke="#aaa" stroke-width="0.5" transform="translate(502.7 446.7) rotate(77.1)"/>
<rect x="-2" y="-3.4" width="4" height="6.8" fill="#fdfdfd" stroke="#aaa" stroke-width="0.5" transform="translate(493.6 447.7) rotate(90.0)"/>
<rect x="-2" y="-3.4" width="4" height="6.8" fill="#fdfdfd" stroke="#aaa" stroke-width="0.5" transform="translate(484.5 446.7) rotate(102.9)"/>
<rect x="-2" y="-3.4" width="4" height="6.8" fill="#fdfdfd" stroke="#aaa" stroke-width="0.5" transform="translate(475.8 443.6) rotate(115.7)"/>
<rect x="-2" y="-3.4" width="4" height="6.8" fill="#fdfdfd" stroke="#aaa" stroke-width="0.5" transform="translate(468.0 438.8) rotate(128.6)"/>
<rect x="-2" y="-3.4" width="4" height="6.8" fill="#fdfdfd" stroke="#aaa" stroke-width="0.5" transform="translate(461.5 432.3) rotate(141.4)"/>
<rect x="-2" y="-3.4" width="4" height="6.8" fill="#fdfdfd" stroke="#aaa" stroke-width="0.5" transform="translate(456.7 424.5) rotate(154.3)"/>
<rect x="-2" y="-3.4" width="4" height="6.8" fill="#fdfdfd" stroke="#aaa" stroke-width="0.5" transform="translate(453.6 415.8) rotate(167.1)"/>
<rect x="-2" y="-3.4" width="4" height="6.8" fill="#fdfdfd" stroke="#aaa" stroke-width="0.5" transform="translate(452.6 406.7) rotate(180.0)"/>
<rect x="-2" y="-3.4" width="4" height="6.8" fill="#fdfdfd" stroke="#aaa" stroke-width="0.5" transform="translate(453.6 397.6) rotate(192.9)"/>
<rect x="-2" y="-3.4" width="4" height="6.8" fill="#fdfdfd" stroke="#aaa" stroke-width="0.5" transform="translate(456.7 388.9) rotate(205.7)"/>
<rect x="-2" y="-3.4" width="4" height="6.8" fill="#fdfdfd" stroke="#aaa" stroke-width="0.5" transform="translate(461.5 381.1) rotate(218.6)"/>
<rect x="-2" y="-3.4" width="4" height="6.8" fill="#fdfdfd" stroke="#aaa" stroke-width="0.5" transform="translate(468.0 374.6) rotate(231.4)"/>
<rect x="-2" y="-3.4" width="4" height="6.8" fill="#fdfdfd" stroke="#aaa" stroke-width="0.5" transform="translate(475.8 369.8) rotate(244.3)"/>
<rect x="-2" y="-3.4" width="4" height="6.8" fill="#fdfdfd" stroke="#aaa" stroke-width="0.5" transform="translate(484.5 366.7) rotate(257.1)"/>
<rect x="-2" y="-3.4" width="4" height="6.8" fill="#fdfdfd" stroke="#aaa" stroke-width="0.5" transform="translate(493.6 365.7) rotate(270.0)"/>
<rect x="-2" y="-3.4" width="4" height="6.8" fill="#fdfdfd" stroke="#aaa" stroke-width="0.5" transform="translate(502.7 366.7) rotate(282.9)"/>
<rect x="-2" y="-3.4" width="4" height="6.8" fill="#fdfdfd" stroke="#aaa" stroke-width="0.5" transform="translate(511.4 369.8) rotate(295.7)"/>
<rect x="-2" y="-3.4" width="4" height="6.8" fill="#fdfdfd" stroke="#aaa" stroke-width="0.5" transform="translate(519.2 374.6) rotate(308.6)"/>
<rect x="-2" y="-3.4" width="4" height="6.8" fill="#fdfdfd" stroke="#aaa" stroke-width="0.5" transform="translate(525.7 381.1) rotate(321.4)"/>
<rect x="-2" y="-3.4" width="4" height="6.8" fill="#fdfdfd" stroke="#aaa" stroke-width="0.5" transform="translate(530.5 388.9) rotate(334.3)"/>
<rect x="-2" y="-3.4" width="4" height="6.8" fill="#fdfdfd" stroke="#aaa" stroke-width="0.5" transform="translate(533.6 397.6) rotate(347.1)"/>
<circle cx="493.6" cy="406.7" r="38" fill="#f7f7f7" stroke="#2e2e2e" stroke-width="1.2"/>
<rect x="455.6" y="401" width="76" height="7" fill="#fafafa"/>
<path d="M449.6 401 h88 M449.6 408 h88" stroke="#2e2e2e" stroke-width="1"/>
<circle cx="493.6" cy="406.7" r="33" fill="#fbfbfb" stroke="#2e2e2e" stroke-width="1.1"/>
<rect x="471.3" y="392.3" width="43.3" height="28.3" rx="3.5" fill="#f8f8f8" stroke="#2e2e2e" stroke-width="1.2"/>
<rect x="473" y="396.3" width="40.3" height="22.4" rx="1.5" fill="none" stroke="#555" stroke-width="0.8"/>
<path d="M483.88 397.50L488.68 397.50M488.68 397.50L488.14 402.00M488.14 402.00L487.60 406.50M482.80 406.50L487.60 406.50M483.34 402.00L482.80 406.50M483.88 397.50L483.34 402.00M483.34 402.00L488.14 402.00M491.48 397.50L496.28 397.50M496.28 397.50L495.74 402.00M495.74 402.00L495.20 406.50M490.40 406.50L495.20 406.50M490.94 402.00L495.74 402.00M499.38 397.50L498.84 402.00M498.84 402.00L503.64 402.00M504.18 397.50L503.64 402.00M503.64 402.00L503.10 406.50M507.28 397.50L512.08 397.50M512.08 397.50L511.54 402.00M506.74 402.00L511.54 402.00M506.74 402.00L506.20 406.50M506.20 406.50L511.00 406.50" fill="none" stroke="#333" stroke-width="0.75" stroke-linecap="round"/>
<rect x="474.2" y="408.6" width="8" height="1.8" fill="#fff" stroke="#555" stroke-width="0.5"/>
<rect x="483.8" y="408.6" width="8" height="1.8" fill="#fff" stroke="#555" stroke-width="0.5"/>
<rect x="493.4" y="408.6" width="8" height="1.8" fill="#fff" stroke="#555" stroke-width="0.5"/>
<rect x="503" y="408.6" width="8" height="1.8" fill="#fff" stroke="#555" stroke-width="0.5"/>
<rect x="473.8" y="412" width="31.2" height="4.7" fill="#111"/>
<rect x="505.4" y="411.8" width="5.4" height="5" fill="#fff" stroke="#555" stroke-width="0.6"/>
<rect x="477.4" y="423.2" width="29.4" height="5.6" rx="1" fill="#fff" stroke="#2e2e2e" stroke-width="1"/>
<text x="492" y="428.2" font-size="5.6" font-weight="bold" text-anchor="middle" font-family="Liberation Sans" fill="#111" textLength="24" lengthAdjust="spacingAndGlyphs">0.10bar</text>
<text x="480" y="389" font-size="5" font-weight="bold" font-family="Liberation Sans" fill="#111">EX</text>
<rect x="480" y="390" width="6" height="1.3" fill="#333"/>
<path d="M518 441 L528 455 L540 449 L532 435z" fill="#eee" stroke="#2e2e2e" stroke-width="1.1"/>
<circle cx="530" cy="446.5" r="4.6" fill="#f2f2f2" stroke="#2e2e2e" stroke-width="1.1"/>
<circle cx="530" cy="446.5" r="2.2" fill="none" stroke="#2e2e2e" stroke-width="1"/>
<path d="M566.7 469.3 q-5 0 -5 6.5 q0 6.5 5 6.5z" fill="#1a1a1a"/>
<g transform="translate(567.7 475.7)">
<rect x="4" y="-5" width="134" height="10" fill="#fbfbfb" stroke="#2e2e2e" stroke-width="1.2"/>
<path d="M0 0 Q2.5 -4.6 5.5 -5 H8 M0 0 Q2.5 4.6 5.5 5 H8" fill="#fbfbfb" stroke="#2e2e2e" stroke-width="1.1"/>
<path d="M4.5 -4.4 H7 M4.5 4.4 H7" stroke="#fbfbfb" stroke-width="1"/>
<path d="M1 0 L17 -2.8 Q19 -3.2 19.5 -4.4 M1 0 L17 2.8 Q19 3.2 19.5 4.4 M0.5 0 H9" fill="none" stroke="#2e2e2e" stroke-width="1"/>
<path d="M144 -15.6 q-9.5 6 -9.5 17 q0 11.5 9.5 17.5 h3 q8 -2 22 -3.5 q-3 -14 0 -28 q-14 0 -22 -3z" fill="#fbfbfb" stroke="#2e2e2e" stroke-width="1.2"/>
<path d="M147.4 -13.4 q-6 6 -6 15 q0 9 5 15.2" fill="none" stroke="#2e2e2e" stroke-width="1.1"/>
<path d="M172.2 -17.2 H260 V20 H172.2 q-6 -18.6 0 -37.2z" fill="url(#grip)" stroke="#2e2e2e" stroke-width="1.2"/>
<line x1="176" y1="11.3" x2="260" y2="11.3" stroke="#fff" stroke-width="0.9" stroke-dasharray="1.4 1.4"/>
</g>
<path d="M640.3 432.2 C650 436 656 446 656.4 456 L662 461.7 L649 470 L635.3 461.7 L641.8 459.3 C641.2 451 638.5 444 634.5 441 Z" fill="#fbfbfb" stroke="#2e2e2e" stroke-width="1.1" stroke-linejoin="round"/>
<path d="M643 512.2 C651 508 655.5 498 655.5 485.5 L640.3 485.5 C640 495 638.5 505 636 512.2 Z" fill="#fbfbfb" stroke="#2e2e2e" stroke-width="1.1"/>
<path d="M626.7 432.2 H640.3 C633 444 630.5 458 631 472.5 C631 490 632.5 503 636 512.2 H626.7 C619 503 614.4 490 614.4 472.5 C614.4 455 619 442 626.7 432.2 Z" fill="#fbfbfb" stroke="#2e2e2e" stroke-width="1.2"/>
<text x="613" y="540" font-size="16" font-family="Liberation Sans" fill="#111">tighten</text>
</svg>
<div class="t" style="left:108.5px;top:-10px;font-size:15px;color:#2a2a2a">①</div>
<div class="t" style="left:141px;top:-10px;font-size:16px;color:#2a2a2a">安装于水平管架</div>
<div class="t" style="left:503px;top:-12px;font-size:15px;color:#111">②</div>
<div class="t" style="left:527px;top:-12px;font-size:16px;color:#111">安装于垂直管架</div>
<div class="t" style="left:1px;top:178px;font-size:19.5px;line-height:31px;color:#333">如右图，松开锁紧<br>螺钉，外壳可转动<br><span style="font-family:'Liberation Serif',serif">270°</span>　，不影响连<br>接件的安装。</div>
<div class="t" style="left:543.5px;top:307.2px;font-size:12.5px;color:#111">③</div>
<div class="t" style="left:567.5px;top:305.8px;font-size:15.5px;color:#111">墙装</div>
</body></html>
